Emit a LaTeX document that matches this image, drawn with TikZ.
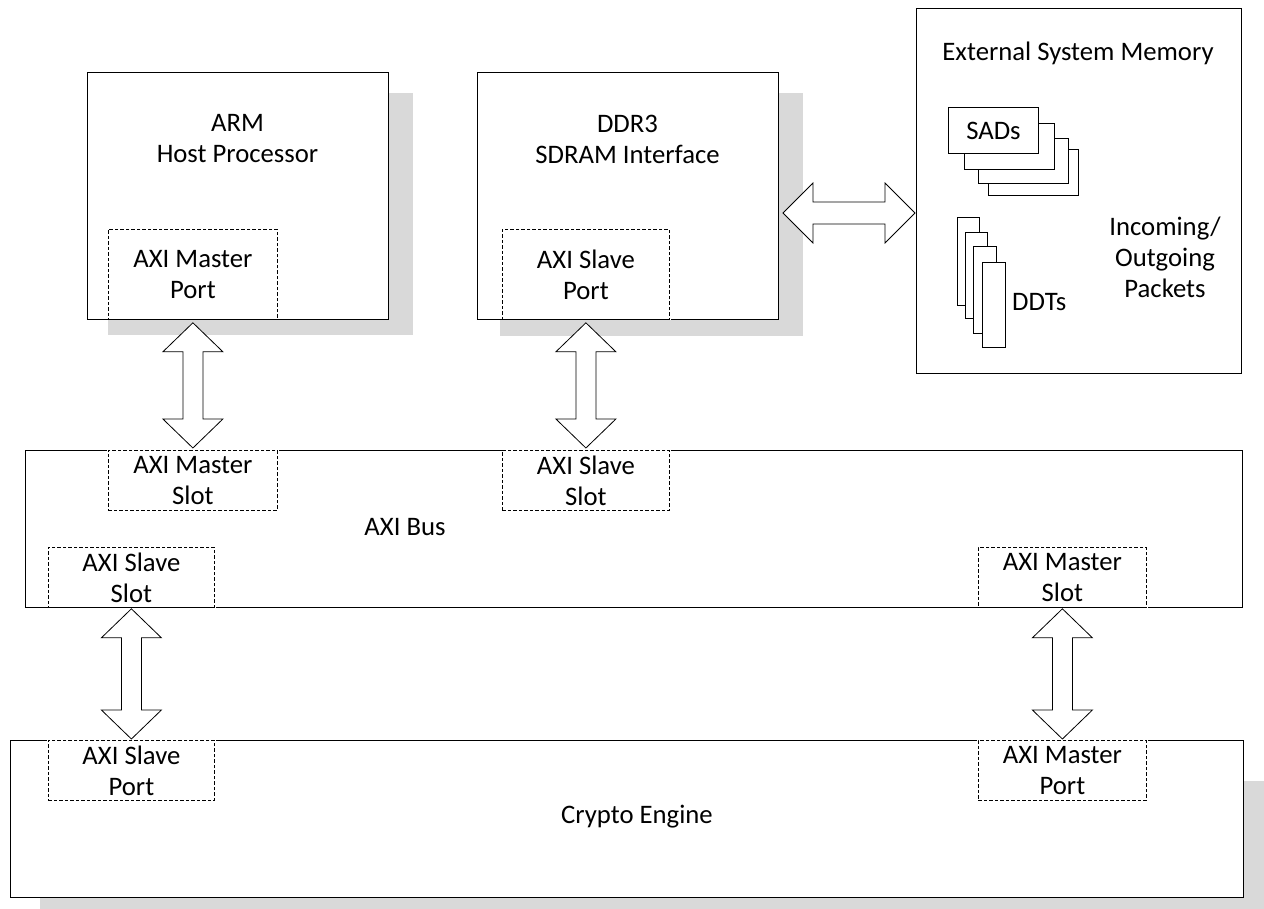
\documentclass[tikz,border=0pt]{standalone}
\usepackage{fontspec}
\setmainfont{Carlito}
\usetikzlibrary{calc}
\newcommand\vdarr[2]{\draw[barrow] let \p1=#1, \p2=#2 in
  (\x1,\y1) -- (\x1+30pt,\y1-29pt) -- (\x1+10pt,\y1-29pt) -- (\x1+10pt,\y2+29pt) -- (\x1+30pt,\y2+29pt) --
  (\x1,\y2) -- (\x1-30pt,\y2+29pt) -- (\x1-10pt,\y2+29pt) -- (\x1-10pt,\y1-29pt) -- (\x1-30pt,\y1-29pt) -- cycle;}
\newcommand\hdarr[2]{\draw[barrow] let \p1=#1, \p2=#2 in
  (\x1,\y1) -- (\x1+30pt,\y1+30pt) -- (\x1+30pt,\y1+11pt) -- (\x2-30pt,\y1+11pt) -- (\x2-30pt,\y1+30pt) --
  (\x2,\y1) -- (\x2-30pt,\y1-30pt) -- (\x2-30pt,\y1-11pt) -- (\x1+30pt,\y1-11pt) -- (\x1+30pt,\y1-30pt) -- cycle;}
\begin{document}
\begin{tikzpicture}[x=1pt,y=-1pt,
  every node/.style={font=\fontsize{26.7}{31}\selectfont, align=center},
  box/.style={draw=black,line width=1pt,fill=white,inner sep=0pt,anchor=north west},
  shadowbox/.style={fill=black!15,draw=none,inner sep=0pt,anchor=north west},
  portbox/.style={draw=black,line width=0.8pt,dash pattern=on 3.5pt off 2pt,fill=white,
     preaction={draw=white,line width=2.2pt},inner sep=0pt,anchor=north west},
  stackbox/.style={draw=black,line width=0.9pt,fill=white,inner sep=0pt,anchor=north west},
  barrow/.style={draw=black,line width=0.8pt,fill=white,line join=miter},
  lbl/.style={inner sep=0pt}
]
\useasboundingbox[fill=white] (0,0) rectangle (1264,909);

% shadows
\node[shadowbox,minimum width=305pt,minimum height=242pt] (armsh) at (108,93) {};
\node[shadowbox,minimum width=303pt,minimum height=243pt] (ddrsh) at (500,93) {};
\fill[black!15] (40,781) rectangle (1264,909);

% main boxes
\node[box,minimum width=301pt,minimum height=247pt] (arm) at (87,72) {};
\node[box,minimum width=301pt,minimum height=247pt] (ddr) at (477,72) {};
\node[box,minimum width=325pt,minimum height=365pt] (ext) at (916,8) {};
\node[box,minimum width=1217pt,minimum height=157pt] (bus) at (25,450) {};
\node[box,minimum width=1233pt,minimum height=157pt] (crypto) at (10,740) {};

% labels
\node[lbl] (armtxt) at (237.5,139) {ARM\\Host Processor};
\node[lbl] (ddrtxt) at (627.5,139) {DDR3\\SDRAM Interface};
\node[lbl] (exttxt) at (1078,53) {External System Memory};
\node[lbl] (bustxt) at (405,527) {AXI Bus};
\node[lbl] (cryptotxt) at (637,817) {Crypto Engine};
\node[lbl] (pkttxt) at (1165,257) {Incoming/\\Outgoing\\Packets};

% ports and slots
\node[portbox,minimum width=169pt,minimum height=90pt] (armport) at (108,229) {};
\node[lbl] at (armport.center) {AXI Master\\Port};
\node[portbox,minimum width=167pt,minimum height=90pt] (ddrport) at (502,229) {};
\node[lbl] at (ddrport.center) {AXI Slave\\Port};
\node[portbox,minimum width=169pt,minimum height=60pt] (mslot) at (108,450) {};
\node[lbl] at (mslot.center) {AXI Master\\Slot};
\node[portbox,minimum width=167pt,minimum height=60pt] (sslot) at (502,450) {};
\node[lbl] at (sslot.center) {AXI Slave\\Slot};
\node[portbox,minimum width=166pt,minimum height=60pt] (sslotb) at (48,547) {};
\node[lbl] at (sslotb.center) {AXI Slave\\Slot};
\node[portbox,minimum width=168pt,minimum height=60pt] (mslotb) at (978,547) {};
\node[lbl] at (mslotb.center) {AXI Master\\Slot};
\node[portbox,minimum width=166pt,minimum height=60pt] (sport) at (48,740) {};
\node[lbl] at (sport.center) {AXI Slave\\Port};
\node[portbox,minimum width=168pt,minimum height=60pt] (mport) at (978,740) {};
\node[lbl] at (mport.center) {AXI Master\\Port};

% SADs stack
\node[stackbox,minimum width=90pt,minimum height=46pt] (sad4) at (988,149) {};
\node[stackbox,minimum width=90pt,minimum height=45pt] (sad3) at (978,138) {};
\node[stackbox,minimum width=90pt,minimum height=46pt] (sad2) at (964,123) {};
\node[stackbox,minimum width=90pt,minimum height=46pt] (sad1) at (948,107) {SADs};

% DDTs stack
\node[stackbox,minimum width=22pt,minimum height=88pt] (ddt1) at (957,217) {};
\node[stackbox,minimum width=22pt,minimum height=86pt] (ddt2) at (965,232) {};
\node[stackbox,minimum width=23pt,minimum height=87pt] (ddt3) at (973,246) {};
\node[stackbox,minimum width=23pt,minimum height=85pt] (ddt4) at (982,262) {};
\node[lbl,anchor=west] (ddttxt) at (1012,302) {DDTs};

% block arrows
\coordinate (hy) at (0,213);
\hdarr{($(ddr.east |- hy)+(4,0)$)}{($(ext.west |- hy)+(-1,0)$)}
\vdarr{($(armport.south)+(0,3)$)}{($(mslot.north)+(0,-2)$)}
\vdarr{($(ddrport.south)+(0,3)$)}{($(sslot.north)+(0,-2)$)}
\vdarr{($(sslotb.south)+(0,1)$)}{($(sport.north)+(0,-1)$)}
\vdarr{($(mslotb.south)+(0,1)$)}{($(mport.north)+(0,-1)$)}
\end{tikzpicture}
\end{document}
